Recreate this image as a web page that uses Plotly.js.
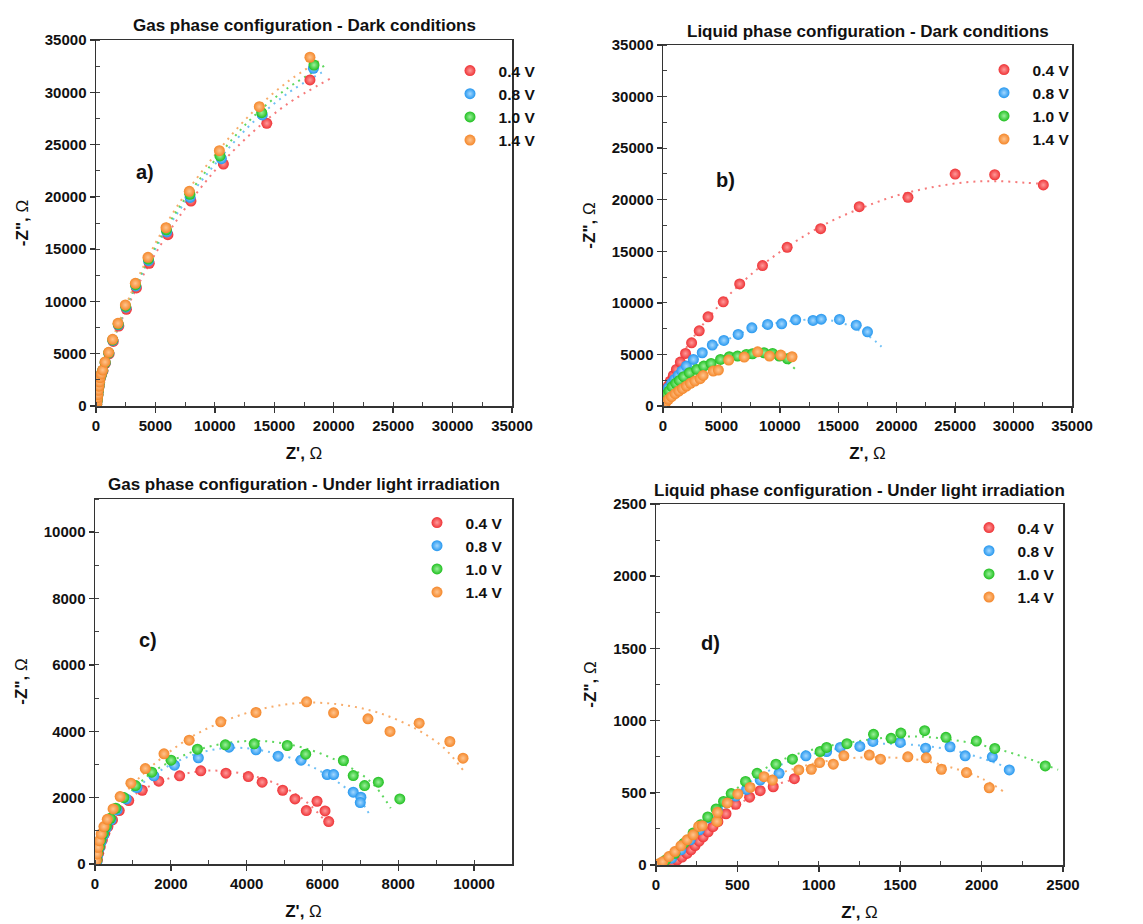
<!DOCTYPE html>
<html>
<head>
<meta charset="utf-8">
<script src="https://cdn.plot.ly/plotly-3.0.1.min.js"></script>
<style>html,body{margin:0;padding:0;background:#fff;}#chart{width:1143px;height:924px;}</style>
</head>
<body>
<div id="chart"></div>
<script>
// ---------- legend / categories ----------
const seriesNames = ["0.4 V", "0.8 V", "1.0 V", "1.4 V"];
const panelTitles = [
  "Gas phase configuration - Dark conditions",
  "Liquid phase configuration - Dark conditions",
  "Gas phase configuration - Under light irradiation",
  "Liquid phase configuration - Under light irradiation"
];
const panelLabels = ["a)", "b)", "c)", "d)"];

// ---------- panel a: gas phase, dark ----------
const a04x = [60, 90, 120, 160, 200, 250, 300, 350, 450, 580, 790, 1100, 1450, 1920, 2560, 3400, 4480, 6050, 7990, 10720, 14370, 18000];
const a04y = [180, 470, 760, 1050, 1430, 1820, 2200, 2600, 2950, 3330, 4080, 4980, 6170, 7640, 9250, 11290, 13650, 16380, 19600, 23140, 27030, 31180];
const a08x = [60, 90, 120, 160, 200, 250, 300, 345, 445, 570, 775, 1080, 1420, 1880, 2510, 3350, 4420, 5960, 7920, 10550, 13990, 18290];
const a08y = [190, 480, 780, 1080, 1460, 1860, 2250, 2650, 3000, 3380, 4140, 5050, 6270, 7770, 9450, 11480, 13900, 16650, 19950, 23650, 27830, 32290];
const a10x = [60, 90, 120, 160, 200, 250, 300, 342, 442, 565, 768, 1072, 1410, 1865, 2490, 3330, 4400, 5920, 7900, 10430, 13940, 18340];
const a10y = [195, 490, 790, 1090, 1480, 1880, 2280, 2680, 3020, 3410, 4170, 5090, 6320, 7840, 9550, 11600, 14050, 16850, 20250, 23910, 28050, 32610];
const a14x = [60, 90, 120, 160, 200, 250, 300, 340, 440, 560, 760, 1065, 1400, 1850, 2470, 3310, 4375, 5890, 7850, 10380, 13740, 18000];
const a14y = [200, 500, 800, 1100, 1500, 1900, 2300, 2710, 3050, 3440, 4210, 5130, 6380, 7910, 9660, 11730, 14220, 17050, 20530, 24420, 28620, 33350];
// fitted (dotted) curves
const a04fx = [0, 300, 1000, 2500, 4500, 7000, 10000, 13000, 16000, 19700];
const a04fy = [0, 2600, 4900, 9100, 13600, 18100, 22500, 26000, 28800, 31300];
const a08fx = [0, 300, 1000, 2500, 4500, 7000, 10000, 13000, 16000, 19000];
const a08fy = [0, 2700, 5000, 9300, 14000, 18700, 23100, 26900, 29800, 31900];
const a10fx = [0, 300, 1000, 2500, 4500, 7000, 10000, 13000, 16000, 19300];
const a10fy = [0, 2750, 5100, 9400, 14200, 19000, 23500, 27400, 30300, 32600];
const a14fx = [0, 300, 1000, 2500, 4500, 7000, 10000, 13000, 16000, 18900];
const a14fy = [0, 2800, 5200, 9600, 14500, 19400, 24000, 27900, 30900, 33100];

// ---------- panel b: liquid phase, dark ----------
const b04x = [52, 130, 260, 443, 625, 885, 1146, 1484, 1927, 2448, 3099, 3854, 5156, 6562, 8515, 10624, 13489, 16796, 20962, 25000, 28384, 32545];
const b04y = [484, 968, 1452, 1936, 2420, 2968, 3549, 4258, 5097, 6129, 7291, 8646, 10097, 11840, 13614, 15388, 17195, 19324, 20227, 22485, 22420, 21430];
const b08x = [104, 260, 469, 729, 990, 1302, 1614, 2005, 2604, 3359, 4218, 5208, 6432, 7604, 8958, 10156, 11354, 12838, 13541, 15103, 16535, 17500];
const b08y = [903, 1355, 1774, 2194, 2581, 2968, 3387, 3871, 4516, 5162, 5904, 6355, 6936, 7581, 7904, 7968, 8355, 8291, 8420, 8388, 7839, 7194];
const b10x = [156, 312, 521, 781, 1094, 1406, 1771, 2265, 2890, 3489, 4114, 4922, 5677, 6380, 7135, 7656, 8645, 9374, 9947, 10650];
const b10y = [710, 1129, 1452, 1871, 2194, 2484, 2839, 3226, 3549, 3871, 4129, 4516, 4774, 4839, 5000, 5065, 5162, 5097, 4839, 4581];
const b14x = [104, 260, 469, 729, 1042, 1354, 1667, 2005, 2344, 2734, 3177, 3437, 4297, 4739, 5625, 6953, 8098, 9114, 10078, 11041];
const b14y = [161, 387, 645, 903, 1194, 1452, 1677, 1936, 2194, 2420, 2645, 2968, 3387, 3484, 4452, 4742, 5258, 4839, 4936, 4774];
const b04fx = [0, 1000, 2500, 5000, 8000, 11000, 14000, 17000, 20000, 23000, 26000, 28500, 31000, 33000];
const b04fy = [0, 3600, 6500, 10000, 13200, 15700, 17700, 19200, 20400, 21200, 21700, 21800, 21650, 21500];
const b08fx = [0, 1000, 2500, 4500, 7000, 9500, 12000, 13500, 15000, 16500, 17700, 18700];
const b08fy = [0, 2700, 4300, 5800, 7200, 8000, 8350, 8400, 8150, 7500, 6700, 5750];
const b10fx = [0, 1000, 2500, 4500, 6500, 8000, 9500, 10500, 11300];
const b10fy = [0, 2100, 3300, 4300, 4900, 5050, 4850, 4350, 3600];

// ---------- panel c: gas phase, light ----------
const c04x = [65, 97, 138, 194, 259, 340, 461, 639, 890, 1246, 1683, 2233, 2791, 3454, 4045, 4409, 4951, 5275, 5574, 5857, 6068, 6165];
const c04y = [121, 322, 523, 724, 926, 1127, 1328, 1610, 1911, 2223, 2495, 2656, 2807, 2736, 2636, 2465, 2223, 1962, 1610, 1891, 1600, 1278];
const c08x = [49, 73, 113, 162, 227, 307, 421, 582, 825, 1108, 1553, 2095, 2726, 3535, 4247, 4830, 5436, 6124, 6294, 6812, 7014, 6998];
const c08y = [70, 272, 473, 674, 875, 1107, 1328, 1630, 1962, 2304, 2656, 2978, 3199, 3521, 3440, 3249, 3129, 2696, 2696, 2163, 2012, 1851];
const c10x = [49, 73, 113, 154, 218, 299, 405, 550, 760, 1068, 1497, 2006, 2702, 3438, 4199, 5072, 5558, 6553, 6812, 7111, 7475, 8041];
const c10y = [121, 322, 523, 724, 926, 1147, 1378, 1680, 2002, 2364, 2767, 3129, 3461, 3591, 3622, 3571, 3310, 3119, 2666, 2364, 2465, 1962];
const c14x = [32, 57, 81, 113, 162, 235, 324, 477, 663, 947, 1327, 1820, 2484, 3317, 4247, 5582, 6294, 7200, 7782, 8551, 9360, 9708];
const c14y = [101, 302, 503, 704, 905, 1127, 1348, 1660, 2032, 2435, 2877, 3320, 3732, 4286, 4567, 4889, 4557, 4376, 3994, 4245, 3692, 3189];
const c04fx = [0, 300, 700, 1200, 2000, 2800, 3600, 4400, 5000, 5600, 6200];
const c04fy = [0, 1200, 1750, 2200, 2600, 2800, 2780, 2580, 2300, 1850, 1130];
const c08fx = [0, 300, 800, 1500, 2500, 3500, 4500, 5500, 6300, 7000, 7260];
const c08fy = [0, 1250, 1950, 2650, 3250, 3500, 3400, 3050, 2550, 1900, 1450];
const c10fx = [0, 300, 800, 1500, 2500, 3500, 4500, 5500, 6500, 7300, 7800];
const c10fy = [0, 1300, 2000, 2750, 3350, 3650, 3700, 3500, 3050, 2450, 1680];
const c14fx = [0, 300, 800, 1500, 2500, 3500, 4500, 5500, 6500, 7500, 8500, 9200, 9730];
const c14fy = [0, 1400, 2150, 2950, 3800, 4350, 4700, 4860, 4800, 4550, 4050, 3500, 2800];

// ---------- panel d: liquid phase, light ----------
const d04x = [40, 70, 100, 130, 160, 190, 215, 240, 265, 290, 320, 350, 380, 430, 490, 575, 640, 720, 850];
const d04y = [3, 10, 20, 35, 55, 80, 105, 135, 165, 195, 230, 265, 300, 355, 420, 470, 515, 542, 598];
const d08x = [41, 97, 153, 210, 266, 322, 378, 434, 490, 556, 640, 756, 921, 1048, 1132, 1252, 1332, 1500, 1656, 1806, 1899, 2066, 2170];
const d08y = [12, 47, 105, 174, 244, 326, 384, 430, 477, 523, 588, 635, 756, 786, 814, 821, 856, 849, 809, 819, 756, 749, 658];
const d10x = [22, 60, 116, 172, 228, 275, 318, 369, 415, 462, 550, 621, 737, 838, 1008, 1048, 1173, 1336, 1444, 1504, 1650, 1781, 1968, 2081, 2391];
const d10y = [7, 35, 81, 151, 221, 279, 333, 388, 440, 495, 579, 635, 698, 733, 786, 814, 840, 905, 877, 914, 930, 884, 858, 807, 686];
const d14x = [13, 41, 79, 116, 153, 191, 228, 262, 284, 374, 378, 438, 503, 578, 664, 715, 877, 954, 1005, 1089, 1154, 1310, 1379, 1547, 1660, 1753, 1907, 2047];
const d14y = [7, 23, 58, 93, 133, 174, 209, 267, 272, 302, 365, 430, 491, 537, 612, 588, 658, 663, 709, 698, 756, 761, 733, 749, 742, 663, 640, 535];
const d04fx = [40, 150, 250, 350, 450, 550, 650, 750, 870];
const d04fy = [0, 40, 130, 260, 370, 450, 510, 560, 600];
const d08fx = [0, 200, 400, 600, 800, 1000, 1200, 1400, 1600, 1800, 2000, 2215];
const d08fy = [0, 170, 410, 590, 710, 780, 820, 840, 830, 800, 740, 650];
const d10fx = [0, 200, 400, 600, 800, 1000, 1200, 1400, 1600, 1800, 2000, 2200, 2470];
const d10fy = [0, 180, 430, 620, 740, 810, 850, 880, 890, 870, 830, 770, 660];
const d14fx = [0, 200, 400, 600, 800, 1000, 1200, 1400, 1600, 1800, 2000, 2133];
const d14fy = [0, 170, 400, 560, 650, 710, 740, 745, 730, 680, 600, 510];

// ---------- styling ----------
const FONT = "Liberation Sans, Arial, sans-serif";
const colors = ["#ee3336", "#2597ef", "#20c020", "#f4872a"];
const centers = ["#ff9a9a", "#a4d8ff", "#9cf09c", "#ffc48e"];
const fitColors = ["#f67a7a", "#6fc0f6", "#5fd85f", "#f8ad6c"];

const W = 1143, H = 924;
// plot rectangles in pixels [left, right, top, bottom]
const rects = [[96, 512, 40, 406], [663, 1072, 45, 406], [95, 512, 499, 864], [656, 1063, 504, 865]];
const ranges = [[35000, 35000, 5000], [35000, 35000, 5000], [11000, 11000, 2000], [2500, 2500, 500]];
// legend top-left (px)
const legendPos = [[450, 54], [984, 53], [417, 506], [969, 511]];

const panels = [
  {pts: [[a04x, a04y], [a08x, a08y], [a10x, a10y], [a14x, a14y]],
   fits: [[a04fx, a04fy], [a08fx, a08fy], [a10fx, a10fy], [a14fx, a14fy]]},
  {pts: [[b04x, b04y], [b08x, b08y], [b10x, b10y], [b14x, b14y]],
   fits: [[b04fx, b04fy], [b08fx, b08fy], [b10fx, b10fy], null]},
  {pts: [[c04x, c04y], [c08x, c08y], [c10x, c10y], [c14x, c14y]],
   fits: [[c04fx, c04fy], [c08fx, c08fy], [c10fx, c10fy], [c14fx, c14fy]]},
  {pts: [[d04x, d04y], [d08x, d08y], [d10x, d10y], [d14x, d14y]],
   fits: [[d04fx, d04fy], [d08fx, d08fy], [d10fx, d10fy], [d14fx, d14fy]]}
];

const traces = [];
const layout = {
  width: W, height: H,
  margin: {l: 0, r: 0, t: 0, b: 0},
  paper_bgcolor: "#ffffff", plot_bgcolor: "#ffffff",
  font: {family: FONT, color: "#111"},
  annotations: [],
  showlegend: true
};

panels.forEach((p, i) => {
  const n = i + 1;
  const xa = "x" + (n === 1 ? "" : n), ya = "y" + (n === 1 ? "" : n);
  const lg = "legend" + (n === 1 ? "" : n);
  p.fits.forEach((f, k) => {
    if (!f) return;
    traces.push({
      x: f[0], y: f[1], xaxis: xa, yaxis: ya, mode: "lines", type: "scatter",
      line: {color: fitColors[k], width: 2, dash: "2px,5px", shape: "spline", smoothing: 1},
      showlegend: false, hoverinfo: "skip"
    });
  });
  p.pts.forEach((s, k) => {
    traces.push({
      x: s[0], y: s[1], xaxis: xa, yaxis: ya, mode: "markers", type: "scatter",
      name: "<b>\u00a0\u00a0" + seriesNames[k] + "</b>", legend: lg,
      marker: {size: 11, color: colors[k], line: {width: 0},
               gradient: {type: "radial", color: centers[k]}}
    });
  });
  const r = rects[i];
  const axBase = {
    showline: true, linecolor: "#333", linewidth: 1.5, mirror: true,
    showgrid: false, zeroline: false,
    ticks: "outside", ticklen: 5, tickwidth: 1.5, tickcolor: "#333",
    tickformat: "d",
    tickfont: {family: FONT, size: 15, weight: "bold", color: "#111"},
    minor: {ticks: "inside", ticklen: 4, tickwidth: 1, tickcolor: "#444", dtick: ranges[i][2] / 2, showgrid: false}
  };
  layout["xaxis" + (n === 1 ? "" : n)] = Object.assign({}, axBase, {
    domain: [r[0] / W, r[1] / W], range: [0, ranges[i][0]], dtick: ranges[i][2], tick0: 0,
    anchor: ya,
    title: {text: "Z', <span style='font-weight:normal'>Ω</span>", font: {family: FONT, size: 17, weight: "bold", color: "#111"}, standoff: 14}
  });
  layout["yaxis" + (n === 1 ? "" : n)] = Object.assign({}, axBase, {
    domain: [1 - r[3] / H, 1 - r[2] / H], range: [0, ranges[i][1]], dtick: ranges[i][2], tick0: 0,
    anchor: xa,
    title: {text: "-Z\", <span style='font-weight:normal'>Ω</span>", font: {family: FONT, size: 17, weight: "bold", color: "#111"}, standoff: 12}
  });
  const lp = legendPos[i];
  layout[lg] = {
    x: lp[0] / W, y: 1 - lp[1] / H, xanchor: "left", yanchor: "top",
    bgcolor: "rgba(0,0,0,0)", borderwidth: 0,
    font: {family: FONT, size: 15.5, color: "#111"},
    itemwidth: 30, tracegroupgap: 0
  };
  layout.annotations.push({
    xref: "paper", yref: "paper", x: (r[0] + r[1]) / 2 / W, y: 1 - (r[2] - 14) / H,
    xanchor: "center", yanchor: "middle", showarrow: false,
    text: panelTitles[i], font: {family: FONT, size: 17, weight: "bold", color: "#111"}
  });
});

const labelPos = [[145, 172], [725, 180], [148, 640], [710, 643]];
labelPos.forEach((lp, i) => {
  layout.annotations.push({
    xref: "paper", yref: "paper", x: lp[0] / W, y: 1 - lp[1] / H,
    xanchor: "center", yanchor: "middle", showarrow: false,
    text: panelLabels[i], font: {family: FONT, size: 20, weight: "bold", color: "#111"}
  });
});

Plotly.newPlot("chart", traces, layout, {staticPlot: true, displayModeBar: false});
</script>
</body>
</html>
